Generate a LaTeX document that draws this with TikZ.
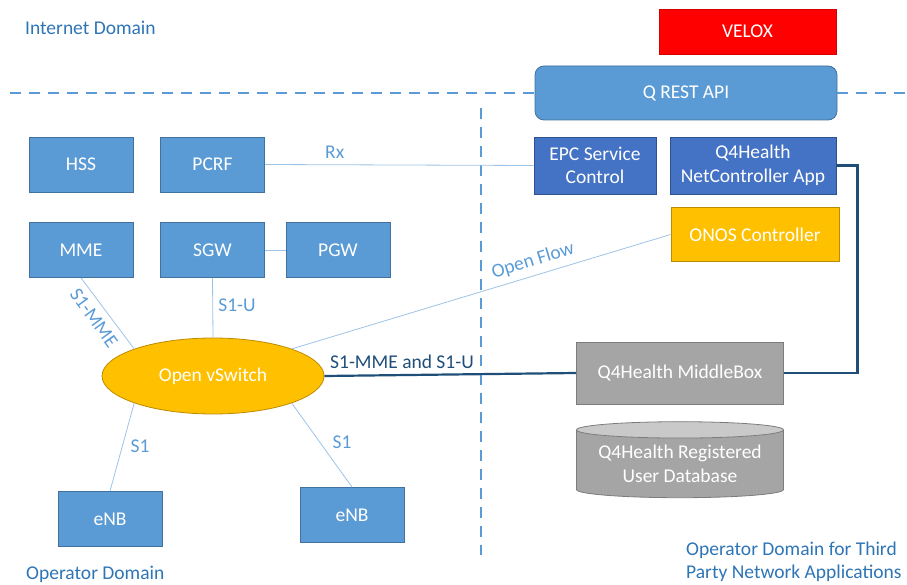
\documentclass[tikz,border=0pt]{standalone}
\usepackage{fontspec}
\setmainfont{Carlito}
\usetikzlibrary{shapes.geometric}
\definecolor{boxblue}{HTML}{5B9BD5}
\definecolor{boxedge}{HTML}{41719C}
\definecolor{appblue}{HTML}{4472C4}
\definecolor{appedge}{HTML}{2F528F}
\definecolor{onosyellow}{HTML}{FFC000}
\definecolor{onosedge}{HTML}{BC8C00}
\definecolor{mbgray}{HTML}{A5A5A5}
\definecolor{mbedge}{HTML}{7C7C7C}
\definecolor{dblight}{HTML}{C9C9C9}
\definecolor{labelblue}{HTML}{5B9BD5}
\definecolor{domainblue}{HTML}{2E75B6}
\definecolor{linkblue}{HTML}{9DC3E6}
\definecolor{trunkblue}{HTML}{1F4E79}
\tikzset{
  txt/.style={font=\fontsize{19.5}{23.5}\selectfont},
  box/.style={txt, draw=boxedge, fill=boxblue, text=white, line width=0.8pt,
    minimum width=104pt, minimum height=55pt, inner sep=0pt, align=center},
  appbox/.style={box, draw=appedge, fill=appblue, minimum height=57pt},
  onosbox/.style={box, draw=onosedge, fill=onosyellow, minimum width=168pt, minimum height=54pt},
  mbbox/.style={box, draw=mbedge, fill=mbgray, minimum width=207pt, minimum height=62pt},
  dbshape/.style={txt, cylinder, shape border rotate=90, aspect=0.1, draw=mbedge, line width=0.8pt,
    cylinder uses custom fill, cylinder body fill=mbgray, cylinder end fill=dblight,
    text=white, minimum width=207pt, minimum height=76pt, inner sep=0pt, align=center},
  link/.style={draw=linkblue, line width=0.8pt},
  trunk/.style={draw=trunkblue, line width=2.2pt},
  domline/.style={draw=boxblue, line width=1.6pt, dash pattern=on 11pt off 8pt},
  lbl/.style={txt, text=labelblue, inner sep=0pt},
  domaintext/.style={txt, text=domainblue, inner sep=0pt, align=left, anchor=west},
}
\begin{document}
\begin{tikzpicture}[x=1pt,y=-1pt]
  \useasboundingbox (0,0) rectangle (907,585);
  % third party side
  \node[box, fill=red, draw=red!85!black, minimum width=177pt, minimum height=45pt] (velox) at (747.5,31.5) {VELOX};
  \node[box, rounded corners=9pt, minimum width=302pt, minimum height=54pt] (api) at (686,93) {Q REST API};
  \node[appbox, minimum width=122pt] (epc) at (595,165.5) {EPC Service\\Control};
  \node[appbox, minimum width=166pt] (app) at (753,165.5) {Q4Health\\NetController App};
  \node[onosbox] (onos) at (755,234.5) {ONOS Controller};
  \node[mbbox] (mbox) at (680,373) {Q4Health MiddleBox};
  \node[dbshape] (db) at (680,464) {Q4Health Registered\\User Database};
  % operator side
  \node[box] (hss) at (81,164.5) {HSS};
  \node[box] (pcrf) at (212.5,164.5) {PCRF};
  \node[box] (mme) at (81,250) {MME};
  \node[box] (sgw) at (212.5,250) {SGW};
  \node[box] (pgw) at (338,250) {PGW};
  \node[box] (enba) at (110,519) {eNB};
  \node[box] (enbb) at (352,515) {eNB};
  \node[txt, ellipse, draw=onosedge, fill=onosyellow, text=white, line width=0.8pt,
    minimum width=222pt, minimum height=76pt, inner sep=0pt] (ovs) at (213,376) {Open vSwitch};
  % domain borders
  \draw[domline] (10,93) -- (api.west);
  \draw[domline] (api.east) -- (905,93);
  \draw[domline] (481,108) -- (481,555);
  % links
  \draw[link] (pcrf.east) -- (epc.west) node [lbl, pos=0.26, above=6pt] (rx) {Rx};
  \draw[link] (sgw.east) -- (pgw.west);
  \draw[link] (mme.south) -- (ovs.161);
  \draw[link] (sgw.south) -- (ovs.north);
  \draw[link] (ovs.19) -- (onos.west);
  \draw[link] (ovs.199) -- (enba.north);
  \draw[link] (ovs.341) -- (enbb.north);
  \draw[trunk] (ovs.east) -- (mbox.west);
  \draw[trunk] (app.east) -- ++(21,0) |- (mbox.east);
  % link labels
  \node[lbl, rotate=-54] (s1mme) at (94,318) {S1-MME};
  \node[lbl] (s1u) at (237,305) {S1-U};
  \node[lbl, rotate=17] (oflow) at (533,261) {Open Flow};
  \node[lbl, text=trunkblue] (s1both) at (402,362) {S1-MME and S1-U};
  \node[lbl] (s1a) at (140,446) {S1};
  \node[lbl] (s1b) at (342,442) {S1};
  % domains
  \node[domaintext] (inet) at (25,28) {Internet Domain};
  \node[domaintext] (opdom) at (26,574) {Operator Domain};
  \node[domaintext] (thirdp) at (686,562) {Operator Domain for Third\\Party Network Applications};
\end{tikzpicture}
\end{document}
